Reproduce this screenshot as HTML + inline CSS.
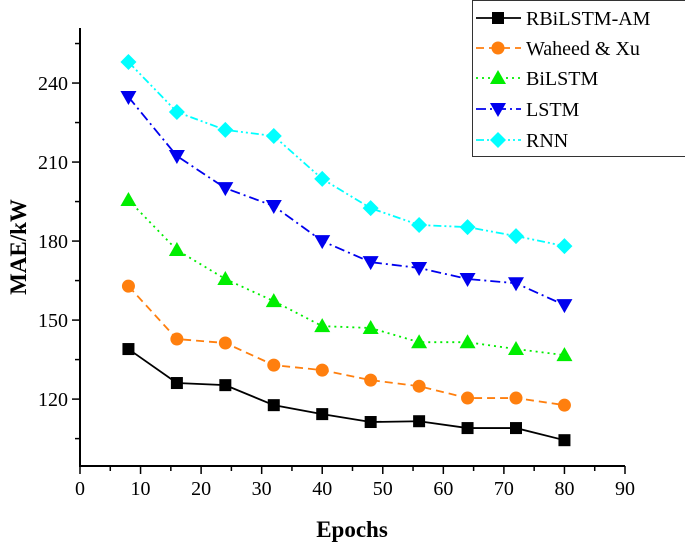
<!DOCTYPE html>
<html><head><meta charset="utf-8"><style>
body{margin:0;background:#fff;}
svg{display:block;font-family:"Liberation Serif",serif;}
</style></head><body>
<svg id="chart" width="685" height="547" viewBox="0 0 685 547" xmlns="http://www.w3.org/2000/svg"></svg>
<script>
const epochs=[8,16,24,32,40,48,56,64,72,80];
const rbilstmAM=[139,126.1,125.3,117.7,114.3,111.3,111.6,109,109,104.4];
const waheedXu=[162.9,142.8,141.3,132.9,131,127.2,124.9,120.4,120.4,117.7];
const bilstm=[195.6,176.6,165.6,157.2,147.7,147,141.6,141.6,139,136.7];
const lstm=[234.7,212.3,200.1,193.3,180,172,169.8,165.6,164,155.7];
const rnn=[248,229,222.2,219.9,203.6,192.5,186.1,185.3,181.9,178.1];
const xTicks=[0,10,20,30,40,50,60,70,80,90];
const yTicks=[120,150,180,210,240];
const seriesNames=["RBiLSTM-AM","Waheed & Xu","BiLSTM","LSTM","RNN"];

const NS="http://www.w3.org/2000/svg";
const svg=document.getElementById('chart');
const X0=80,X1=625,YB=466,YT=28,ymin=94.6,ymax=260.9;
const xs=v=>X0+(v-0)/(90-0)*(X1-X0);
const ys=v=>YB-(v-ymin)/(ymax-ymin)*(YB-YT);
function mk(t,a,p){const e=document.createElementNS(NS,t);for(const k in a)e.setAttribute(k,a[k]);(p||svg).appendChild(e);return e;}

const axes=mk('g',{});


mk('line',{x1:X0,y1:YT,x2:X0,y2:YB+1,stroke:'#000','stroke-width':2},axes);
mk('line',{x1:X0-1,y1:YB,x2:X1,y2:YB,stroke:'#000','stroke-width':2},axes);
xTicks.forEach((t,i)=>{
  const x=xs(t);
  mk('line',{x1:x,y1:YB,x2:x,y2:YB+8,stroke:'#000','stroke-width':1.5},axes);
  if(i<xTicks.length-1)mk('line',{x1:xs(t+5),y1:YB,x2:xs(t+5),y2:YB+5,stroke:'#000','stroke-width':1.5},axes);
  const tx=mk('text',{x:x,y:YB+29,'text-anchor':'middle','font-size':20},axes);
  tx.textContent=t;
  
  
});
yTicks.forEach(t=>{
  const y=ys(t);
  mk('line',{x1:X0-8,y1:y,x2:X0,y2:y,stroke:'#000','stroke-width':1.5},axes);
  const tx=mk('text',{x:X0-12,y:y+7,'text-anchor':'end','font-size':20},axes);
  tx.textContent=t;
  
  
});
[105,135,165,195,225,255].forEach(t=>mk('line',{x1:X0-5,y1:ys(t),x2:X0,y2:ys(t),stroke:'#000','stroke-width':1.5},axes));
const xt=mk('text',{x:352,y:537,'text-anchor':'middle','font-size':23,'font-weight':'bold'});
xt.textContent='Epochs';


const yt=mk('text',{x:0,y:0,'text-anchor':'middle','font-size':23,'font-weight':'bold',transform:'translate(26,247) rotate(-90)'});
yt.textContent='MAE/kW';



function marker(shape,x,y,color,g){
  if(shape==='square')return mk('rect',{x:x-6,y:y-6,width:12,height:12,fill:color},g);
  if(shape==='circle')return mk('circle',{cx:x,cy:y,r:6.5,fill:color},g);
  if(shape==='up')return mk('polygon',{points:`${x},${y-8} ${x+8},${y+6} ${x-8},${y+6}`,fill:color},g);
  if(shape==='down')return mk('polygon',{points:`${x},${y+8} ${x+8},${y-6} ${x-8},${y-6}`,fill:color},g);
  return mk('polygon',{points:`${x},${y-8} ${x+8},${y} ${x},${y+8} ${x-8},${y}`,fill:color},g);
}
const styles=[
 {d:rbilstmAM,c:'#000',dash:'',sh:'square',n:'series-rbilstm-am'},
 {d:waheedXu,c:'#ff7f0e',dash:'8 5',sh:'circle',n:'series-waheed-xu'},
 {d:bilstm,c:'#00ee00',dash:'2 4',sh:'up',n:'series-bilstm'},
 {d:lstm,c:'#0000ee',dash:'10 4 2 4',sh:'down',n:'series-lstm'},
 {d:rnn,c:'#00ffff',dash:'8 3 2 3 2 3',sh:'diamond',n:'series-rnn'}];
styles.forEach(s=>{
  const g=mk('g',{});
  
  
  mk('polyline',{points:epochs.map((e,i)=>xs(e)+','+ys(s.d[i])).join(' '),fill:'none',stroke:s.c,'stroke-width':1.8,'stroke-dasharray':s.dash},g);
  epochs.forEach((e,i)=>{const m=marker(s.sh,xs(e),ys(s.d[i]),s.c,g);
    
    });
});
const lg=mk('g',{});


mk('rect',{x:472.5,y:0.5,width:220,height:156,fill:'#fff',stroke:'#333','stroke-width':1},lg);
const ly=[18,48,78,109,140];
styles.forEach((s,i)=>{
  const e=mk('g',{},lg);
  
  
  mk('line',{x1:476,y1:ly[i],x2:521,y2:ly[i],stroke:s.c,'stroke-width':1.8,'stroke-dasharray':s.dash},e);
  marker(s.sh,498,ly[i],s.c,e);
  const t=mk('text',{x:526,y:ly[i]+7,'font-size':20},e);
  t.textContent=seriesNames[i];
});
</script>
</body></html>
